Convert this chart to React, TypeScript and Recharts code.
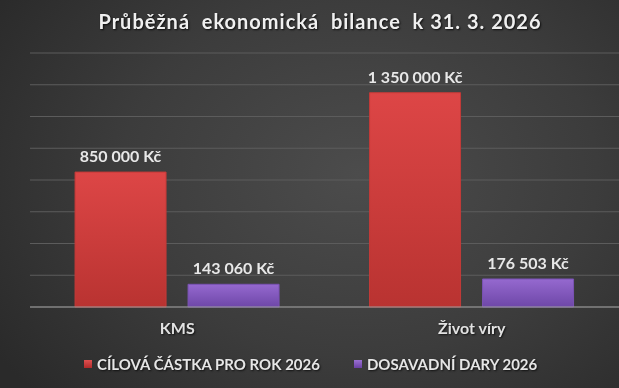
import React from "react";
import { BarChart, Bar, XAxis, YAxis, CartesianGrid, Legend, LabelList } from "recharts";

const categories = ["KMS", "Život víry"];
const targetValues = [850000, 1350000];
const donationValues = [143060, 176503];
const seriesNames = ["CÍLOVÁ ČÁSTKA PRO ROK 2026", "DOSAVADNÍ DARY 2026"];
const yTicks = [0, 200000, 400000, 600000, 800000, 1000000, 1200000, 1400000, 1600000];
const titleText = "Průběžná  ekonomická  bilance  k 31. 3. 2026";

const data = categories.map((c, i) => ({
  name: c,
  target: targetValues[i],
  donations: donationValues[i],
}));

const FONT = "Lato, 'Open Sans', sans-serif";

const fmt = (v: number) =>
  String(v).replace(/\B(?=(\d{3})+(?!\d))/g, " ") + " Kč";

const renderLegend = () => (
  <div
    style={{
      height: 46,
      display: "flex",
      alignItems: "center",
      paddingLeft: 54,
      paddingTop: 8,
      boxSizing: "border-box",
      fontFamily: FONT,
      fontWeight: 700,
      fontSize: 15,
      color: "#e6e6e6",
      textShadow: "1px 1px 2px rgba(0,0,0,0.7)",
      whiteSpace: "nowrap",
    }}
  >
    <span style={{ display: "inline-flex", alignItems: "center", marginRight: 34 }}>
      <span style={{ width: 8, height: 8, background: "linear-gradient(#e05050,#b02a2a)", marginRight: 5, display: "inline-block" }} />
      {seriesNames[0]}
    </span>
    <span style={{ display: "inline-flex", alignItems: "center" }}>
      <span style={{ width: 8, height: 8, background: "linear-gradient(#9a70d2,#6a40a4)", marginRight: 5, display: "inline-block" }} />
      {seriesNames[1]}
    </span>
  </div>
);

const CatTick = (props: any) => {
  const { x, y, payload } = props;
  return (
    <text
      x={x}
      y={y + 19}
      textAnchor="middle"
      fill="#e2e2e2"
      fontFamily={FONT}
      fontWeight={700}
      fontSize={16}
      style={{ textShadow: "1px 1px 2px rgba(0,0,0,0.7)" }}
    >
      {payload.value}
    </text>
  );
};

export default function App() {
  return (
    <div
      style={{
        position: "fixed",
        left: 0,
        top: 0,
        width: 619,
        height: 388,
        background: "radial-gradient(ellipse 70% 85% at 58% 45%, #4c4c4c 0%, #3c3c3c 55%, #2a2a2a 100%)",
        overflow: "hidden",
      }}
    >
      <div
        style={{
          position: "absolute",
          left: 0,
          top: 9,
          width: 640,
          textAlign: "center",
          whiteSpace: "pre",
          fontFamily: FONT,
          fontWeight: 700,
          fontSize: 20,
          letterSpacing: 1,
          color: "#f0f0f0",
          textShadow: "1px 1px 2px rgba(0,0,0,0.8)",
        }}
      >
        {titleText}
      </div>
      <BarChart
        width={619}
        height={388}
        data={data}
        margin={{ top: 53, right: 0, left: 30, bottom: 5 }}
        barCategoryGap="15.3%"
        barGap={22}
      >
        <defs>
          <linearGradient id="redGrad" x1="0" y1="0" x2="0" y2="1">
            <stop offset="0%" stopColor="#dd4646" />
            <stop offset="100%" stopColor="#b93331" />
          </linearGradient>
          <linearGradient id="purpleGrad" x1="0" y1="0" x2="0" y2="1">
            <stop offset="0%" stopColor="#9569cf" />
            <stop offset="100%" stopColor="#6e47a8" />
          </linearGradient>
        </defs>
        <CartesianGrid vertical={false} stroke="#5c5c5c" strokeWidth={1} />
        <YAxis hide domain={[0, 1600000]} ticks={yTicks} />
        <XAxis
          dataKey="name"
          height={30}
          tickLine={false}
          axisLine={{ stroke: "#9a9a9a" }}
          tick={<CatTick />}
          interval={0}
        />
        <Legend verticalAlign="bottom" height={46} content={renderLegend} />
        <Bar dataKey="target" name={seriesNames[0]} fill="url(#redGrad)" stroke="#c43a38" isAnimationActive={false}>
          <LabelList
            dataKey="target"
            position="top"
            offset={10}
            formatter={(v: any) => fmt(Number(v))}
            fill="#e8e8e8"
            fontFamily={FONT}
            fontWeight={700}
            fontSize={16}
          />
        </Bar>
        <Bar dataKey="donations" name={seriesNames[1]} fill="url(#purpleGrad)" stroke="#7a52b4" isAnimationActive={false}>
          <LabelList
            dataKey="donations"
            position="top"
            offset={10}
            formatter={(v: any) => fmt(Number(v))}
            fill="#e8e8e8"
            fontFamily={FONT}
            fontWeight={700}
            fontSize={16}
          />
        </Bar>
      </BarChart>
    </div>
  );
}
